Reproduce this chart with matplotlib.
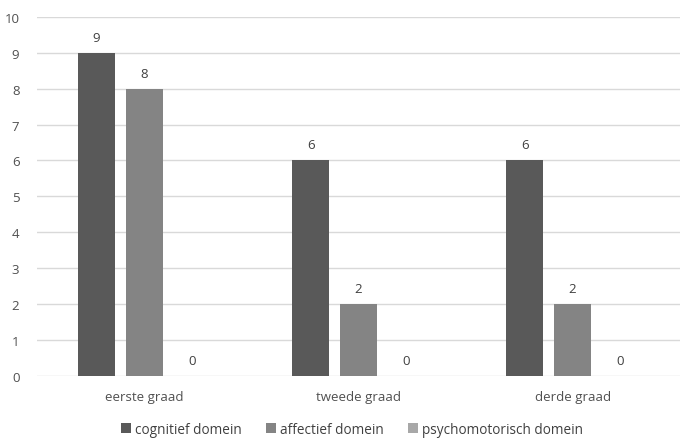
import matplotlib.pyplot as plt
import numpy as np

categories = ["eerste graad", "tweede graad", "derde graad"]
series_names = ["cognitief domein", "affectief domein", "psychomotorisch domein"]
cognitief = [9, 6, 6]
affectief = [8, 2, 2]
psychomotorisch = [0, 0, 0]
yticks = list(range(0, 11))

colors = ["#595959", "#848484", "#a8a8a8"]
text_color = "#505050"

plt.rcParams['font.family'] = ['Open Sans', 'DejaVu Sans']

fig = plt.figure(figsize=(6.81, 4.39), dpi=100)
ax = fig.add_axes([0.055, 0.142, 0.943, 0.817])

x = np.arange(len(categories))
width = 0.173
step = 0.224
values = [cognitief, affectief, psychomotorisch]
for i, (name, vals, c) in enumerate(zip(series_names, values, colors)):
    pos = x + (i - 1) * step
    bars = ax.bar(pos, vals, width, color=c, label=name, zorder=3)
    for b, v in zip(bars, vals):
        ax.text(b.get_x() + b.get_width() / 2, v + 0.25, str(v),
                ha="center", va="bottom", fontsize=9.5, color="#404040")

ax.set_xlim(-0.5, 2.5)
ax.set_ylim(0, 10)
ax.set_yticks(yticks)
ax.set_xticks(x)
ax.set_xticklabels(categories)
ax.yaxis.grid(True, color="#d9d9d9", linewidth=1, zorder=0)
for s in ax.spines.values():
    s.set_visible(False)
ax.tick_params(axis="both", length=0, labelsize=9.5, colors=text_color)
ax.tick_params(axis="y", pad=13)
ax.tick_params(axis="x", pad=10)

ax.legend(loc="upper center", bbox_to_anchor=(0.49, -0.095), ncol=3, frameon=False,
          fontsize=9.8, labelcolor="#404040", handlelength=0.7, handleheight=0.7,
          handletextpad=0.3, columnspacing=1.8)

fig.savefig("out.png", dpi=100)
